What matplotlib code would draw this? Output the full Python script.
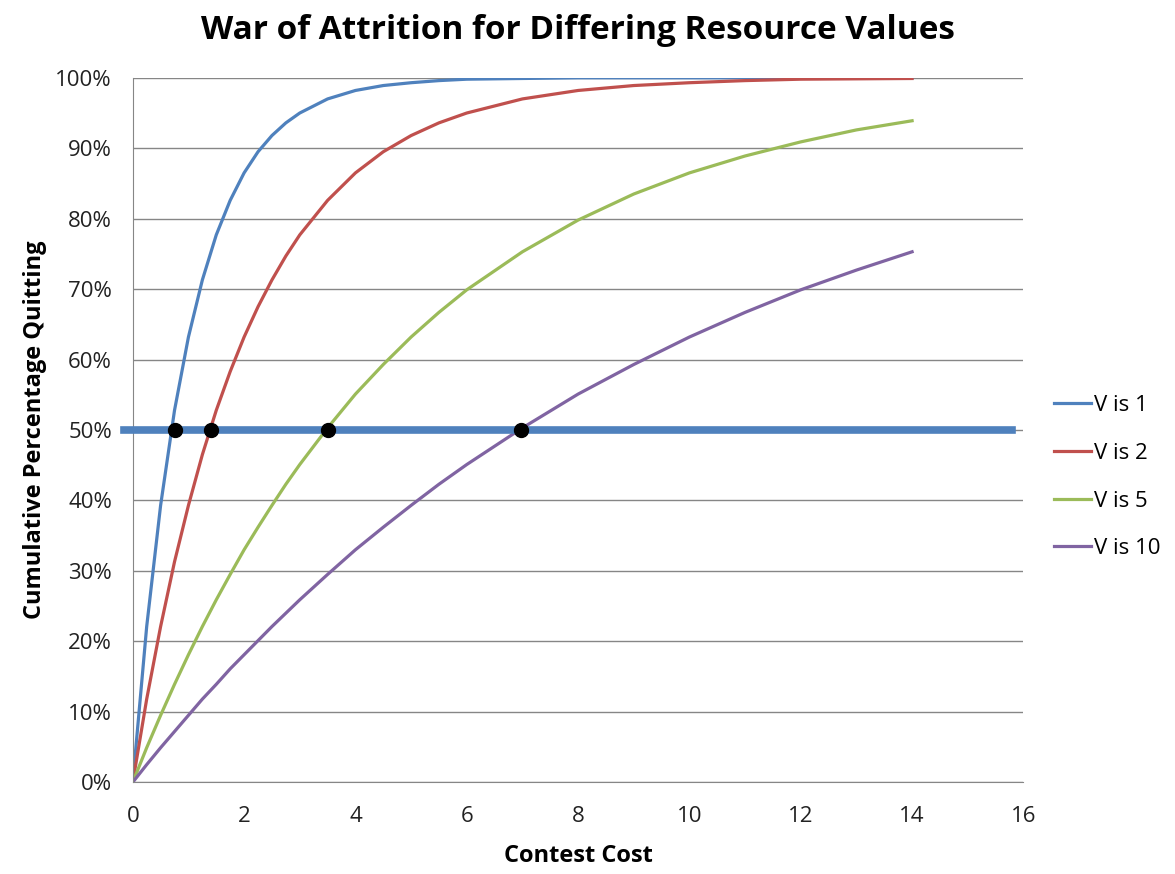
import numpy as np
import matplotlib.pyplot as plt
from matplotlib.ticker import PercentFormatter

plt.rcParams["font.family"] = ["Open Sans", "DejaVu Sans"]

# contest cost sample points
cost = [0, 0.25, 0.5, 0.75, 1, 1.25, 1.5, 1.75, 2, 2.25, 2.5, 2.75, 3,
        3.5, 4, 4.5, 5, 5.5, 6, 7, 8, 9, 10, 11, 12, 13, 14]

# cumulative percentage quitting
v1 = [0, 22.1, 39.3, 52.8, 63.2, 71.3, 77.7, 82.6, 86.5, 89.5, 91.8, 93.6, 95.0,
      97.0, 98.2, 98.9, 99.3, 99.6, 99.8, 99.9, 100, 100, 100, 100, 100, 100, 100]
v2 = [0, 11.8, 22.1, 31.3, 39.3, 46.5, 52.8, 58.3, 63.2, 67.5, 71.3, 74.7, 77.7,
      82.6, 86.5, 89.5, 91.8, 93.6, 95.0, 97.0, 98.2, 98.9, 99.3, 99.6, 99.8, 99.85, 99.9]
v5 = [0, 4.9, 9.5, 13.9, 18.1, 22.1, 25.9, 29.5, 33.0, 36.2, 39.3, 42.3, 45.1,
      50.3, 55.1, 59.3, 63.2, 66.7, 69.9, 75.3, 79.8, 83.5, 86.5, 88.9, 90.9, 92.6, 93.9]
v10 = [0, 2.5, 4.9, 7.2, 9.5, 11.8, 13.9, 16.1, 18.1, 20.1, 22.1, 24.0, 25.9,
       29.5, 33.0, 36.2, 39.3, 42.3, 45.1, 50.3, 55.1, 59.3, 63.2, 66.7, 69.9, 72.7, 75.3]

labels = ["V is 1", "V is 2", "V is 5", "V is 10"]
colors = ["#4F81BD", "#C0504D", "#9BBB59", "#8064A2"]

# 50% crossing points
half_x = [0.75, 1.4, 3.5, 6.97]
half_y = [50, 50, 50, 50]
line_x = [-0.15, 15.8]
line_y = [50, 50]

fig = plt.figure(figsize=(11.75, 8.74), dpi=100)
ax = fig.add_axes([0.113, 0.105, 0.758, 0.806])

for y, lab, c in zip([v1, v2, v5, v10], labels, colors):
    ax.plot(cost, y, color=c, lw=2.3, label=lab)

ax.plot(line_x, line_y, color="#4F81BD", lw=5.5, clip_on=False, zorder=3)
ax.plot(half_x, half_y, "o", color="black", ms=10, zorder=4)

ax.set_xlim(0, 16)
ax.set_ylim(0, 100)
ax.set_xticks(range(0, 17, 2))
ax.set_yticks(range(0, 101, 10))
ax.yaxis.set_major_formatter(PercentFormatter(decimals=0))
ax.grid(axis="y", color="#868686", lw=1)
ax.set_axisbelow(True)
for s in ["top", "right"]:
    ax.spines[s].set_visible(False)
for s in ["left", "bottom"]:
    ax.spines[s].set_color("#868686")
ax.tick_params(length=0, labelsize=16, labelcolor="#222222")
ax.tick_params(axis="x", pad=17)
ax.tick_params(axis="y", pad=15)

ax.set_title("War of Attrition for Differing Resource Values",
             fontsize=24, fontweight="bold", pad=28)
ax.set_xlabel("Contest Cost", fontsize=17, fontweight="bold", labelpad=12)
ax.set_ylabel("Cumulative Percentage Quitting", fontsize=17,
              fontweight="bold", labelpad=6)

ax.legend(loc="center left", bbox_to_anchor=(1.034, 0.433), frameon=False,
          fontsize=16, handlelength=1.7, handletextpad=0.1, labelspacing=1.2,
          borderpad=0, borderaxespad=0)

fig.savefig("out.png", dpi=100)
